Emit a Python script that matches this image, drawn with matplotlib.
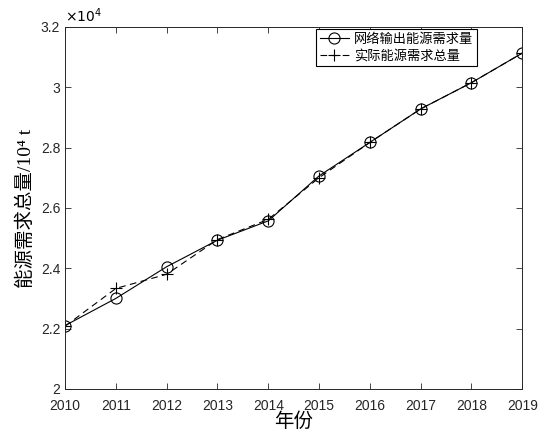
import matplotlib.pyplot as plt
from matplotlib.ticker import FuncFormatter

plt.rcParams['font.family'] = ['Liberation Sans', 'DejaVu Sans']

# energy demand, 10^4 t
years = [2010, 2011, 2012, 2013, 2014, 2015, 2016, 2017, 2018, 2019]
net_output = [22100, 23000, 24050, 24930, 25570, 27060, 28170, 29280, 30150, 31130]
actual = [22080, 23330, 23800, 24950, 25620, 27000, 28170, 29280, 30150, 31130]

cjk = ['Noto Sans CJK SC', 'DejaVu Sans']
serif_cjk = ['Liberation Serif', 'Noto Sans CJK SC', 'DejaVu Sans']

fig = plt.figure(figsize=(5.52, 4.34), dpi=100)
ax = fig.add_axes([0.118, 0.104, 0.828, 0.834])

ax.plot(years, net_output, '-o', color='black', lw=0.8, ms=8,
        mfc='none', mew=0.8, label='网络输出能源需求量')
ax.plot(years, actual, '--+', color='black', lw=0.8, ms=8.5,
        mew=0.8, dashes=(6, 4), label='实际能源需求总量')

ax.set_xlim(2010, 2019)
ax.set_ylim(20000, 32000)
ax.set_xticks(years)
ax.set_yticks([20000, 22000, 24000, 26000, 28000, 30000, 32000])
ax.yaxis.set_major_formatter(FuncFormatter(lambda v, p: '%g' % (v / 1e4)))

ax.tick_params(direction='in', top=True, right=True, labelsize=10,
               length=4, width=0.6, colors='#262626')
ax.tick_params(axis='x', pad=7)
for s in ax.spines.values():
    s.set_color('#262626')
    s.set_linewidth(0.7)

ax.text(0.0, 1.005, r'$\times 10^4$', transform=ax.transAxes,
        fontsize=10, va='bottom', ha='left')

ax.set_xlabel('年份', fontsize=14, family=cjk, labelpad=-1)
ax.set_ylabel('能源需求总量/10⁴ t', fontsize=14, family=serif_cjk,
              labelpad=4)

leg = ax.legend(loc='upper right', bbox_to_anchor=(0.902, 0.994),
                prop={'family': cjk, 'size': 9.5},
                fancybox=False, edgecolor='black', framealpha=1,
                handlelength=2.2, borderaxespad=0, borderpad=0.3,
                labelspacing=0.25, handletextpad=0.4)
leg.get_frame().set_linewidth(0.8)

fig.savefig('out.png', dpi=100)
